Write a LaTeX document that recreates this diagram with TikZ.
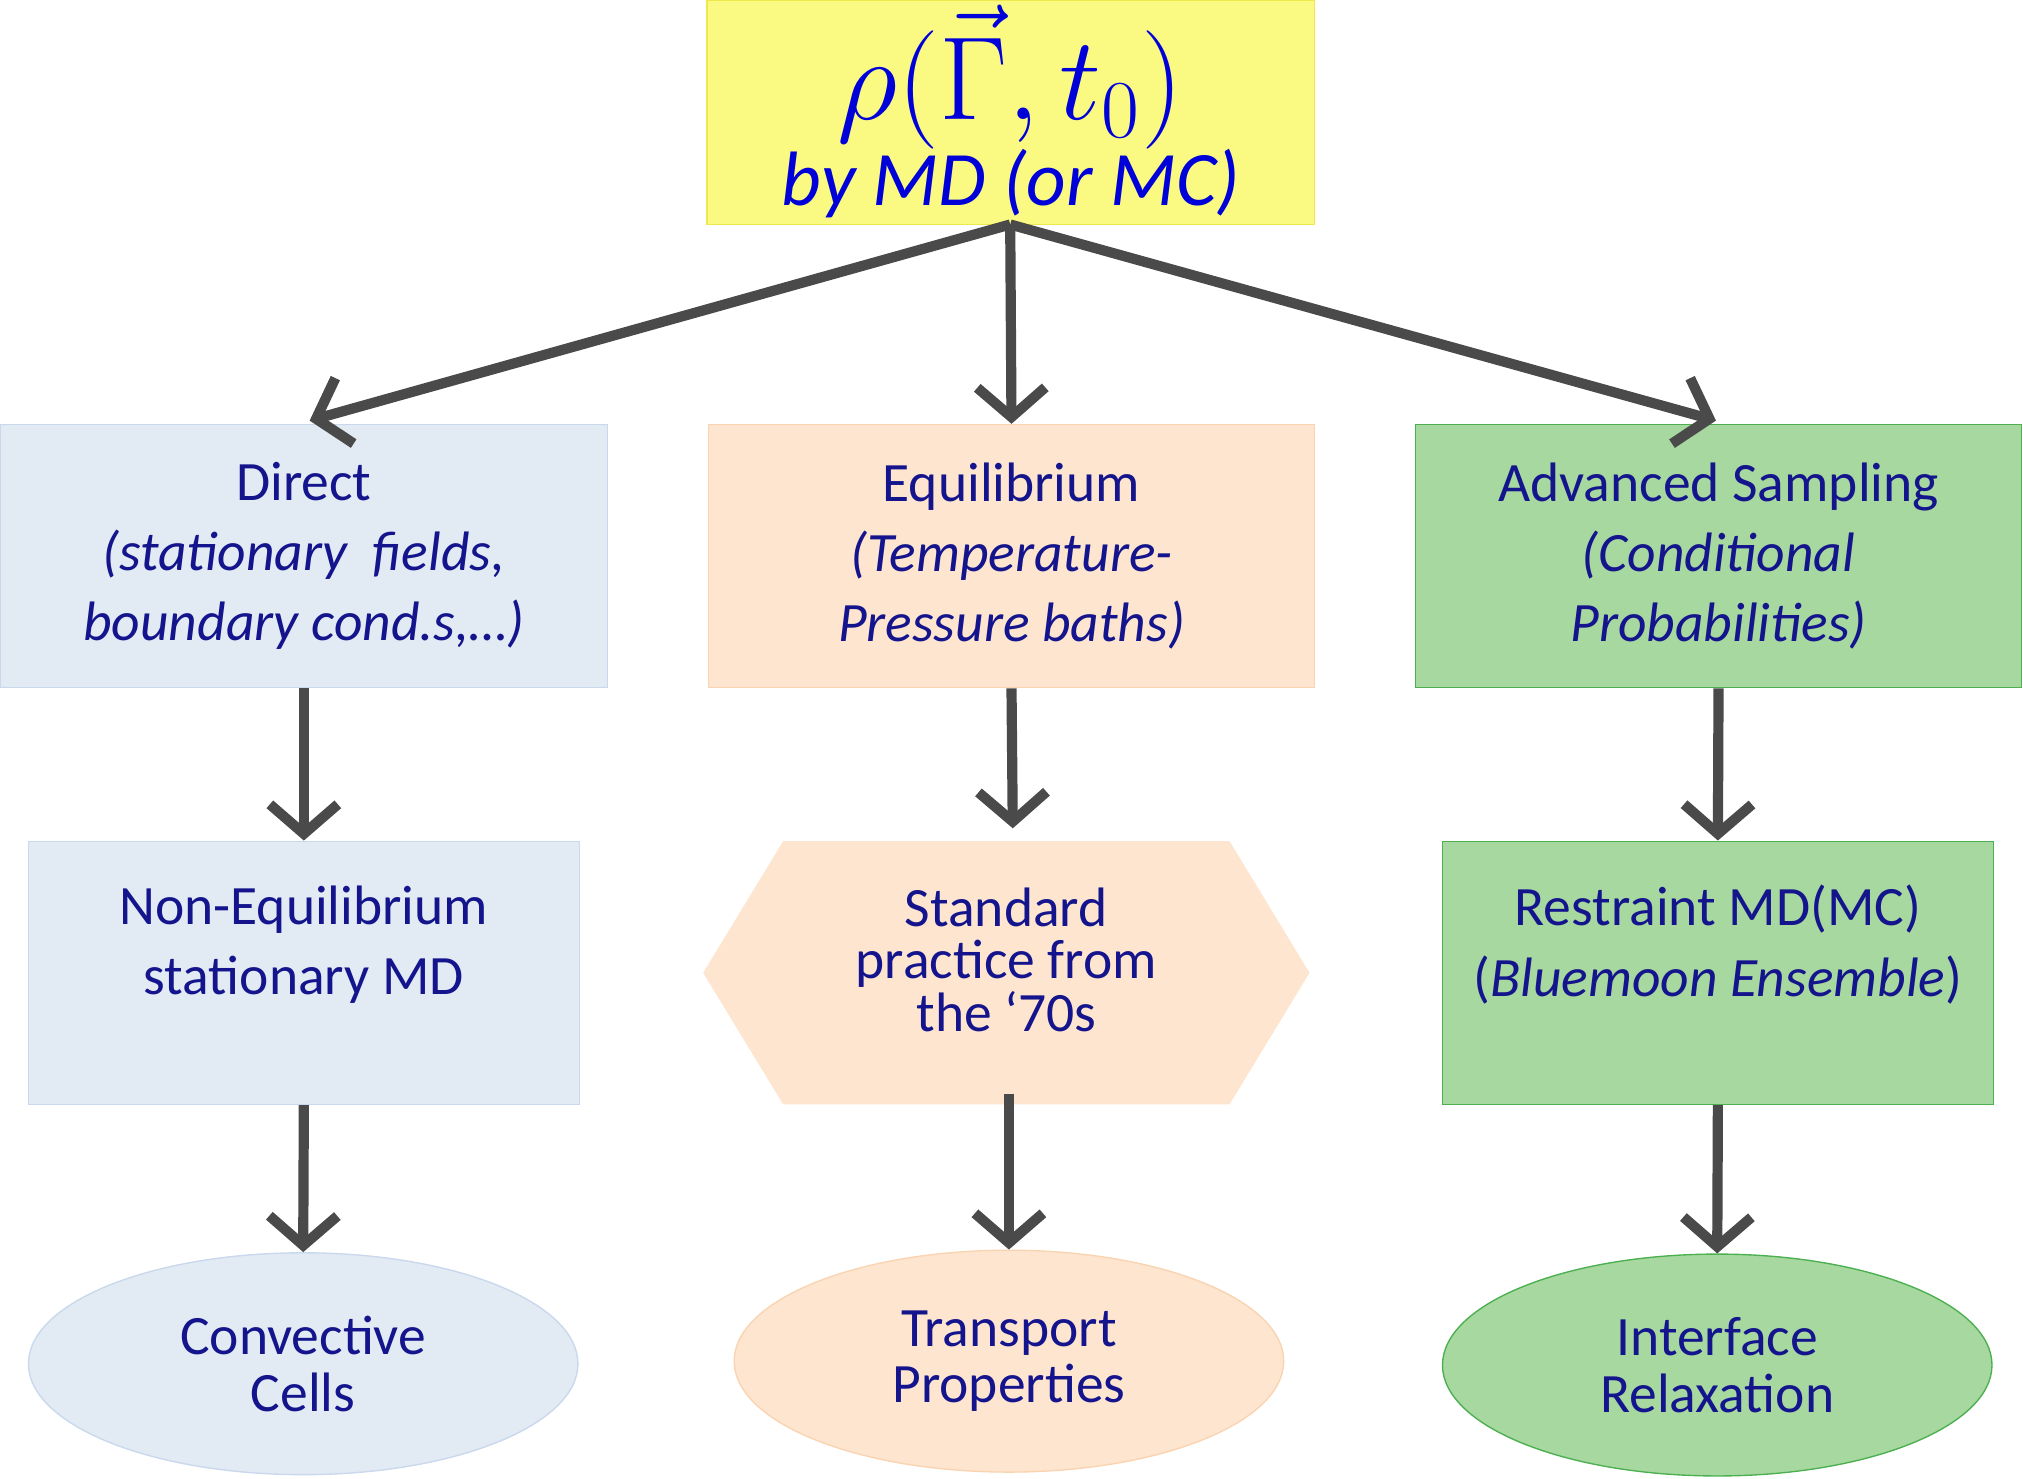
\documentclass[tikz,border=0pt]{standalone}
\usepackage{fontspec}
\setmainfont{Carlito}
\usepackage{graphicx}
\usetikzlibrary{arrows.meta,shapes.geometric}
\definecolor{txt}{HTML}{14148C}
\definecolor{blu}{HTML}{E2EAF4}
\definecolor{bluB}{HTML}{C9D8EC}
\definecolor{pch}{HTML}{FDE5D0}
\definecolor{pchB}{HTML}{FAD3B0}
\definecolor{grn}{HTML}{A6D8A0}
\definecolor{grnB}{HTML}{4CAF50}
\definecolor{yel}{HTML}{FAFA82}
\definecolor{yelB}{HTML}{F0E84A}
\definecolor{arr}{HTML}{4A4A4A}
\begin{document}
\begin{tikzpicture}[x=0.02cm,y=-0.02cm,
  every node/.style={text=txt,font=\fontsize{24.5}{30}\selectfont,align=center,inner sep=0pt},
  box/.style={rectangle,draw,line width=0.6pt,minimum width=#1},
  ell/.style={ellipse,draw,line width=0.6pt,minimum width=8.52cm,minimum height=3.44cm},
  ar/.style={draw=arr,line width=4.5pt,-{Straight Barb[length=13pt,width=30pt,line width=4.5pt]}}]
\useasboundingbox (0,0) rectangle (1568,1146);
\node[box=9.42cm,minimum height=3.48cm,fill=yel,draw=yelB] (top) at (783.5,87) {};
\node[text=blue!85!black] (rho) at (783.5,60) {\scalebox{2.1}{$\rho(\vec{\Gamma},t_0)$}};
\node[text=blue!85!black,font=\fontsize{34}{36}\itshape] (by) at (783.5,142) {by MD (or MC)};
\node[box=9.42cm,minimum height=4.08cm,fill=blu,draw=bluB] (direct) at (235.5,431) {Direct\\[1pt]\itshape (stationary\ \ fields,\\[1pt]\itshape boundary cond.s,…)};
\node[box=9.40cm,minimum height=4.08cm,fill=pch,draw=pchB] (equil) at (784,431) {Equilibrium\\[1pt]\itshape (Temperature-\\[1pt]\itshape Pressure baths)};
\node[box=9.40cm,minimum height=4.08cm,fill=grn,draw=grnB] (adv) at (1332,431) {Advanced Sampling\\[1pt]\itshape (Conditional\\[1pt]\itshape Probabilities)};
\node[box=8.54cm,minimum height=4.08cm,fill=blu,draw=bluB] (noneq) at (235.5,754) {};
\node at (235.5,732) {Non-Equilibrium\\[1pt] stationary MD};
\fill[pch] (607,652) -- (953,652) -- (1015,754) -- (953,856) -- (607,856) -- (545,754) -- cycle;
\node (std) at (780,744) {Standard\\[-7pt]practice from\\[-7pt]the ‘70s};
\coordinate (stdS) at (782,848);
\coordinate (stdN) at (785,642);
\node[box=8.54cm,minimum height=4.08cm,fill=grn,draw=grnB] (restr) at (1331.5,754) {};
\node at (1331.5,732) {Restraint MD(MC)\\[1pt](\textit{Bluemoon Ensemble})};
\node[ell,fill=blu,draw=bluB] (conv) at (235,1057) {Convective\\[-5pt]Cells};
\node[ell,fill=pch,draw=pchB] (trans) at (782,1055) {Transport\\[-5pt]Properties};
\node[ell,fill=grn,draw=grnB] (inter) at (1331,1058) {Interface\\[-5pt]Relaxation};
\coordinate (o) at (783,174);
\coordinate (t1) at (240,326);
\coordinate (t3) at (1330,326);
\draw[ar] (o) -- (t1);
\draw[ar] (o) -- (equil.north);
\draw[ar] (o) -- (t3);
\draw[ar] (direct.south) -- (noneq.north);
\draw[ar] (equil.south) -- (stdN);
\draw[ar] (adv.south) -- (restr.north);
\draw[ar] (noneq.south) -- (conv.north);
\draw[ar] (stdS) -- (trans.north);
\draw[ar] (restr.south) -- (inter.north);
\end{tikzpicture}
\end{document}
